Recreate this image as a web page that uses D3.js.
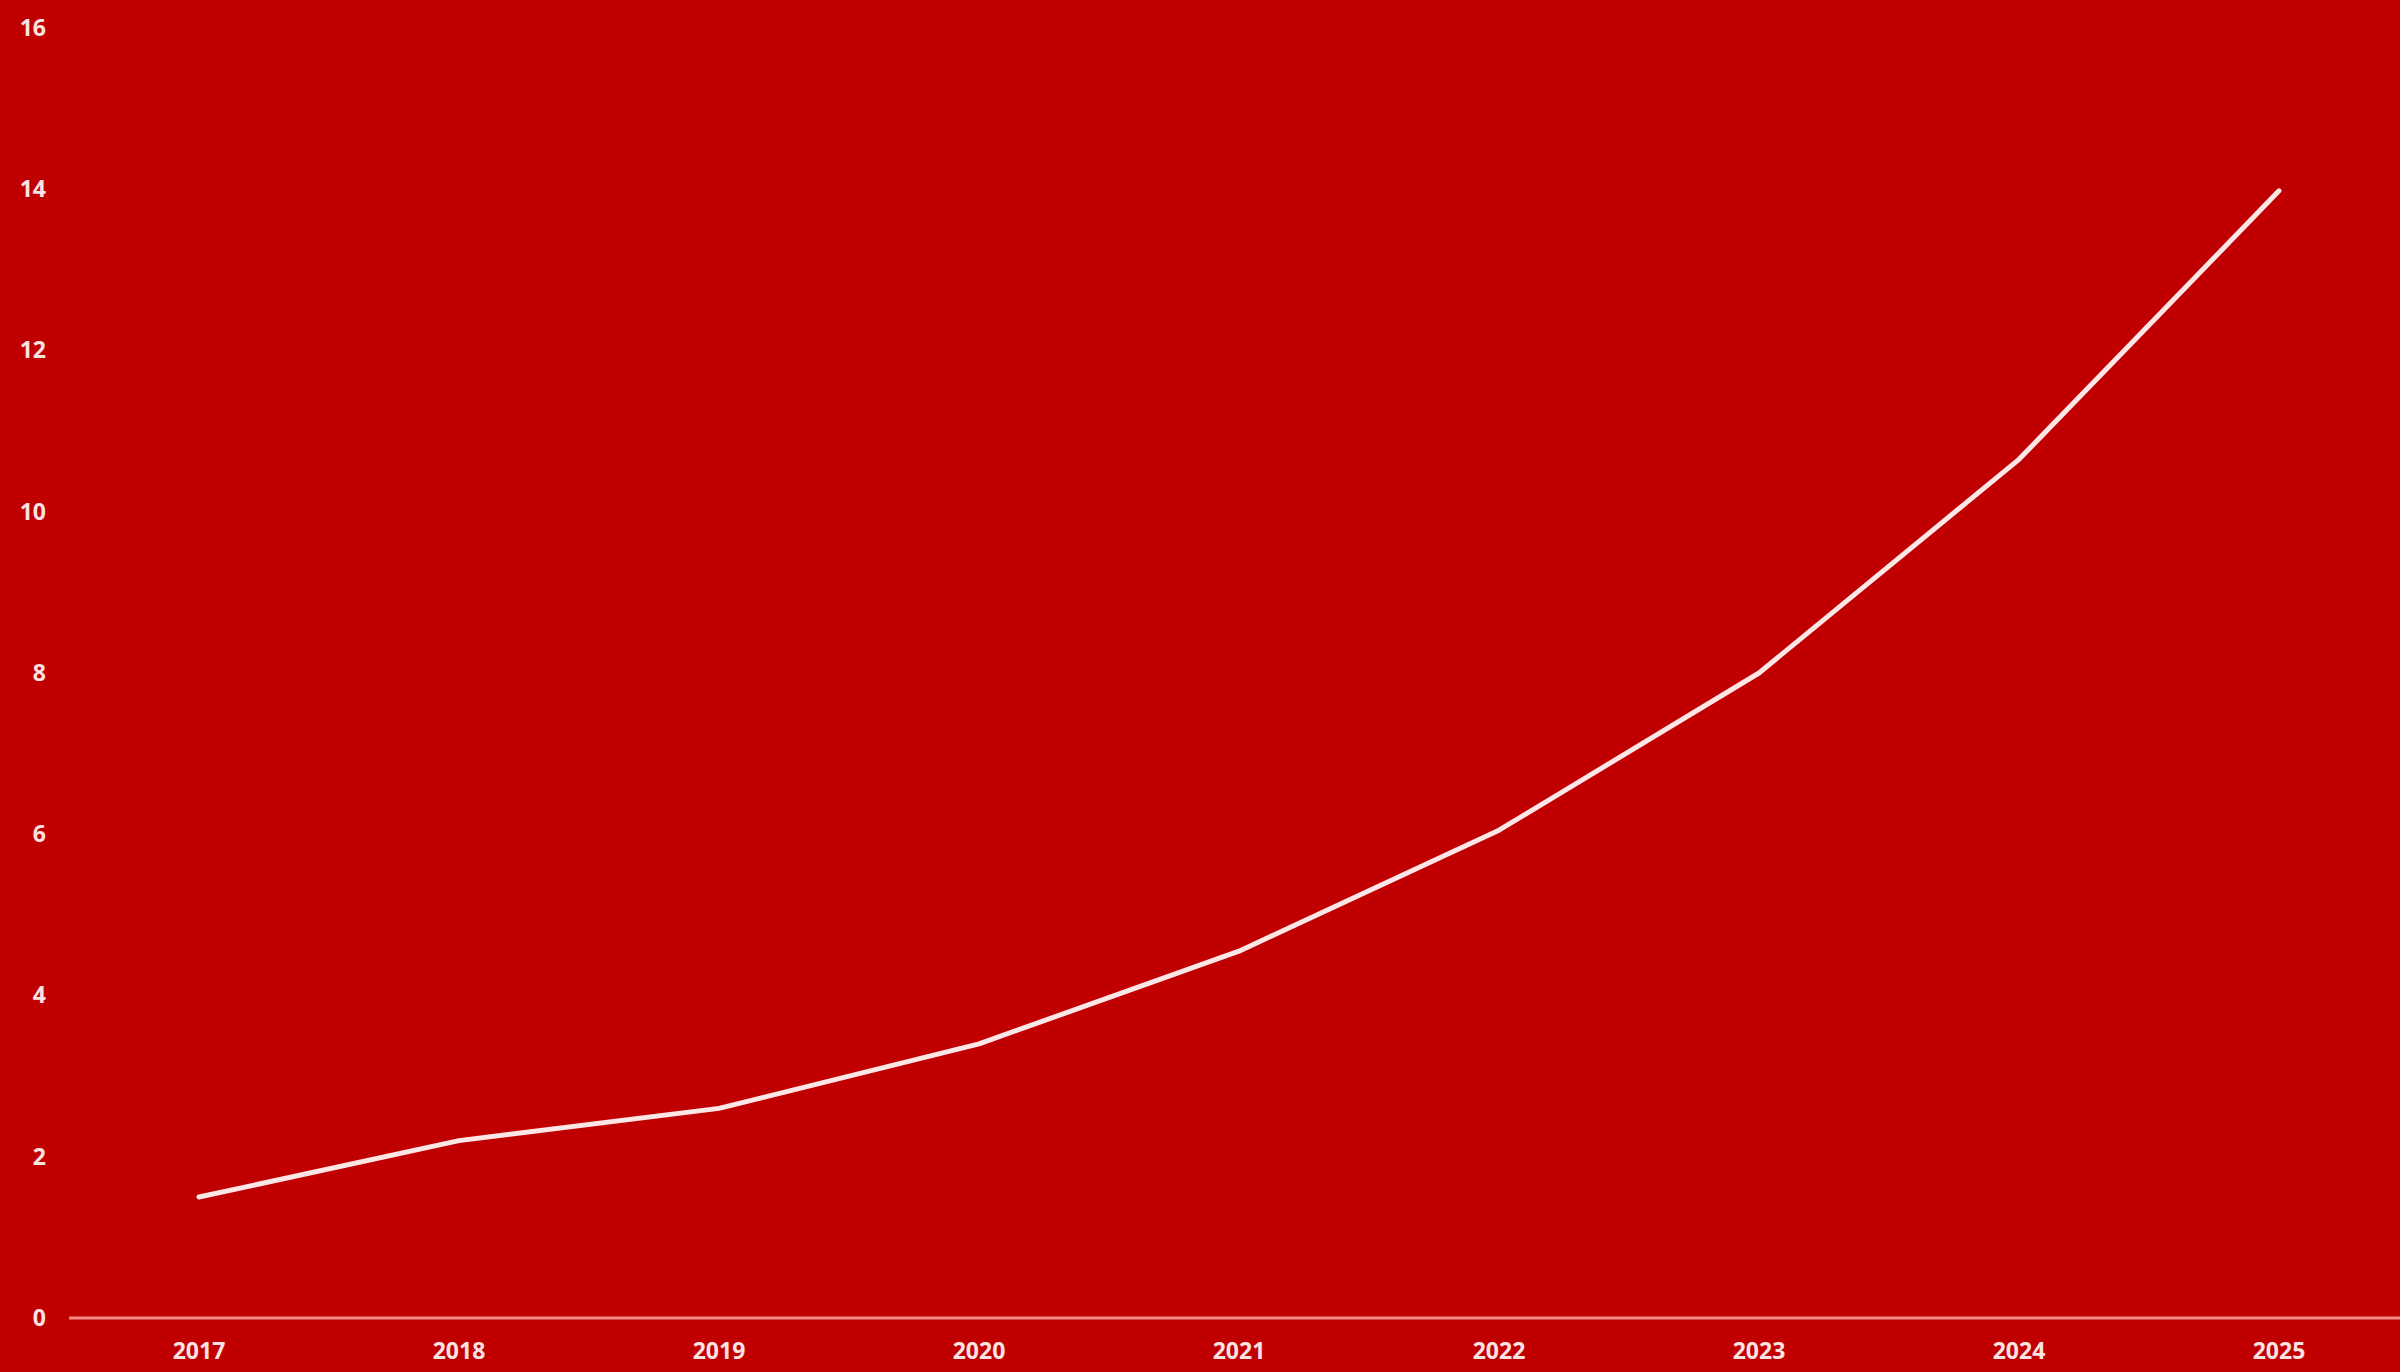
<!DOCTYPE html>
<html>
<head>
<meta charset="utf-8">
<script src="https://cdn.jsdelivr.net/npm/d3@7"></script>
<style>
html,body{margin:0;padding:0;background:#c00000;overflow:hidden}
</style>
</head>
<body>
<div id="chart"></div>
<script>

const years=["2017","2018","2019","2020","2021","2022","2023","2024","2025"]
const values=[1.5,2.2,2.6,3.4,4.55,6.05,8.0,10.65,13.98]
const yTicks=[0,2,4,6,8,10,12,14,16]

const width=2400
const height=1372

const svg=d3.select("#chart")
.append("svg")
.attr("width",width)
.attr("height",height)
.style("background","#c00000")
.style("display","block")

const x=d3.scaleBand()
.domain(years)
.range([69,2409])
.padding(0)

const y=d3.scaleLinear()
.domain([0,16])
.range([1318,28])

const cx=d=>x(d)+x.bandwidth()/2

// y labels only, no gridlines
const yAxis=svg.append("g")
.attr("transform","translate(46,0)")
.call(d3.axisLeft(y).tickValues(yTicks).tickSize(0).tickPadding(0))

yAxis.select(".domain").remove()

yAxis.selectAll("text")
.attr("fill","#fbe3e3")
.attr("font-family","Open Sans, Liberation Sans, sans-serif")
.attr("font-weight","bold")
.attr("font-size","23px")
.attr("text-anchor","end")

// baseline
svg.append("line")
.attr("x1",69)
.attr("x2",width)
.attr("y1",y(0))
.attr("y2",y(0))
.attr("stroke","#f38a8a")
.attr("stroke-width",3)

// x labels
const xAxis=svg.append("g")
.attr("transform","translate(0,"+y(0)+")")
.call(d3.axisBottom(x).tickSize(0).tickPadding(25))

xAxis.select(".domain").remove()

xAxis.selectAll("text")
.attr("fill","#fbe3e3")
.attr("font-family","Open Sans, Liberation Sans, sans-serif")
.attr("font-weight","bold")
.attr("font-size","23px")

// line
const line=d3.line()
.x((d,i)=>cx(years[i]))
.y(d=>y(d))

svg.append("path")
.datum(values)
.attr("d",line)
.attr("fill","none")
.attr("stroke","#fde6e6")
.attr("stroke-width",5)
.attr("stroke-linejoin","round")
.attr("stroke-linecap","round")

</script>
</body>
</html>
